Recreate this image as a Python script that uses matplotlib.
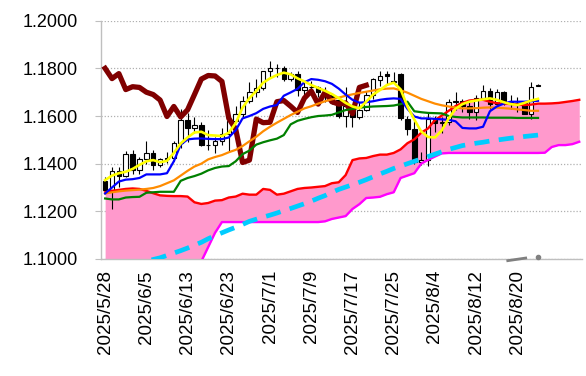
import matplotlib
matplotlib.use("Agg")
import matplotlib.pyplot as plt
import numpy as np

# x tick labels, one every 6 sessions
tick_labels = ["2025/5/28", "2025/6/5", "2025/6/13", "2025/6/23", "2025/7/1", "2025/7/9",
               "2025/7/17", "2025/7/25", "2025/8/4", "2025/8/12", "2025/8/20"]

# daily candles (EUR/USD)
opens = [1.1327, 1.1290, 1.1368, 1.1350, 1.1442, 1.1372, 1.1418, 1.1446, 1.1396, 1.1421,
         1.1423, 1.1487, 1.1584, 1.1548, 1.1562, 1.1478, 1.1480, 1.1495, 1.1523, 1.1578,
         1.1610, 1.1665, 1.1701, 1.1718, 1.1787, 1.1803, 1.1800, 1.1757, 1.1778, 1.1711,
         1.1723, 1.1720, 1.1700, 1.1690, 1.1667, 1.1598, 1.1640, 1.1596, 1.1626, 1.1690,
         1.1752, 1.1778, 1.1742, 1.1778, 1.1587, 1.1545, 1.1405, 1.1415, 1.1587, 1.1572,
         1.1574, 1.1660, 1.1665, 1.1641, 1.1615, 1.1675, 1.1705, 1.1650, 1.1700, 1.1660,
         1.1650, 1.1655, 1.1610, 1.1728]
highs = [1.1345, 1.1384, 1.1386, 1.1454, 1.1456, 1.1426, 1.1495, 1.1458, 1.1422, 1.1449,
         1.1495, 1.1631, 1.1614, 1.1594, 1.1573, 1.1542, 1.1510, 1.1548, 1.1585, 1.1641,
         1.1682, 1.1744, 1.1754, 1.1790, 1.1830, 1.1818, 1.1810, 1.1786, 1.1789, 1.1749,
         1.1745, 1.1728, 1.1720, 1.1695, 1.1680, 1.1720, 1.1643, 1.1659, 1.1705, 1.1760,
         1.1788, 1.1788, 1.1786, 1.1782, 1.1600, 1.1580, 1.1450, 1.1613, 1.1598, 1.1595,
         1.1672, 1.1699, 1.1670, 1.1667, 1.1687, 1.1730, 1.1716, 1.1712, 1.1707, 1.1687,
         1.1680, 1.1665, 1.1742, 1.1733]
lows = [1.1282, 1.1211, 1.1304, 1.1345, 1.1358, 1.1357, 1.1397, 1.1372, 1.1385, 1.1404,
        1.1412, 1.1467, 1.1489, 1.1530, 1.1473, 1.1458, 1.1445, 1.1479, 1.1454, 1.1576,
        1.1590, 1.1655, 1.1680, 1.1710, 1.1759, 1.1762, 1.1746, 1.1746, 1.1683, 1.1681,
        1.1688, 1.1680, 1.1657, 1.1650, 1.1590, 1.1556, 1.1556, 1.1587, 1.1621, 1.1670,
        1.1725, 1.1730, 1.1740, 1.1585, 1.1520, 1.1400, 1.1395, 1.1390, 1.1534, 1.1528,
        1.1563, 1.1626, 1.1615, 1.1589, 1.1582, 1.1668, 1.1630, 1.1647, 1.1645, 1.1630,
        1.1617, 1.1607, 1.1587, 1.1725]
closes = [1.1290, 1.1368, 1.1347, 1.1442, 1.1372, 1.1418, 1.1446, 1.1396, 1.1421, 1.1423,
          1.1487, 1.1584, 1.1548, 1.1562, 1.1478, 1.1480, 1.1495, 1.1523, 1.1578, 1.1610,
          1.1665, 1.1701, 1.1718, 1.1787, 1.1803, 1.1800, 1.1757, 1.1778, 1.1711, 1.1723,
          1.1720, 1.1700, 1.1690, 1.1667, 1.1598, 1.1640, 1.1596, 1.1626, 1.1690, 1.1755,
          1.1770, 1.1768, 1.1745, 1.1590, 1.1545, 1.1405, 1.1415, 1.1587, 1.1572, 1.1574,
          1.1660, 1.1665, 1.1641, 1.1615, 1.1675, 1.1705, 1.1650, 1.1700, 1.1660, 1.1650,
          1.1655, 1.1610, 1.1720, 1.1729]

# 5-day moving average (yellow)
ma5 = [1.1331, 1.1350, 1.1360, 1.1366, 1.1378, 1.1395, 1.1410, 1.1415, 1.1406, 1.1412,
       1.1445, 1.1485, 1.1510, 1.1531, 1.1534, 1.1520, 1.1518, 1.1516, 1.1530, 1.1570,
       1.1635, 1.1675, 1.1705, 1.1740, 1.1758, 1.1772, 1.1782, 1.1775, 1.1758, 1.1745,
       1.1730, 1.1718, 1.1706, 1.1692, 1.1675, 1.1655, 1.1640, 1.1632, 1.1660, 1.1690,
       1.1709, 1.1730, 1.1740, 1.1712, 1.1640, 1.1585, 1.1535, 1.1512, 1.1510, 1.1540,
       1.1590, 1.1630, 1.1650, 1.1660, 1.1665, 1.1670, 1.1674, 1.1668, 1.1658, 1.1650,
       1.1646, 1.1655, 1.1665, 1.1672]
# conversion line (blue)
tenkan = [1.1275, 1.1300, 1.1325, 1.1333, 1.1335, 1.1340, 1.1355, 1.1355, 1.1355, 1.1360,
          1.1410, 1.1480, 1.1502, 1.1505, 1.1506, 1.1504, 1.1503, 1.1503, 1.1510, 1.1540,
          1.1590, 1.1600, 1.1612, 1.1630, 1.1640, 1.1646, 1.1685, 1.1699, 1.1714, 1.1742,
          1.1755, 1.1752, 1.1746, 1.1735, 1.1715, 1.1690, 1.1668, 1.1656, 1.1658, 1.1662,
          1.1668, 1.1672, 1.1674, 1.1672, 1.1630, 1.1598, 1.1590, 1.1590, 1.1588, 1.1586,
          1.1584, 1.1578, 1.1550, 1.1548, 1.1548, 1.1555, 1.1620, 1.1640, 1.1652, 1.1660,
          1.1660, 1.1660, 1.1662, 1.1664]
# base line (green)
kijun = [1.1254, 1.1250, 1.1250, 1.1258, 1.1260, 1.1261, 1.1278, 1.1280, 1.1282, 1.1282,
         1.1282, 1.1328, 1.1340, 1.1348, 1.1358, 1.1372, 1.1382, 1.1388, 1.1390, 1.1410,
         1.1440, 1.1455, 1.1480, 1.1490, 1.1498, 1.1505, 1.1520, 1.1565, 1.1580, 1.1588,
         1.1595, 1.1600, 1.1602, 1.1605, 1.1615, 1.1625, 1.1630, 1.1635, 1.1638, 1.1640,
         1.1641, 1.1642, 1.1644, 1.1650, 1.1660, 1.1620, 1.1616, 1.1613, 1.1612, 1.1611,
         1.1600, 1.1596, 1.1594, 1.1594, 1.1594, 1.1594, 1.1593, 1.1593, 1.1593, 1.1593,
         1.1592, 1.1592, 1.1592, 1.1592]
# 25-day moving average (orange)
ma25 = [1.1275, 1.1280, 1.1284, 1.1287, 1.1289, 1.1291, 1.1294, 1.1298, 1.1306, 1.1318,
        1.1330, 1.1350, 1.1370, 1.1388, 1.1400, 1.1418, 1.1428, 1.1436, 1.1448, 1.1458,
        1.1474, 1.1494, 1.1513, 1.1536, 1.1555, 1.1572, 1.1588, 1.1604, 1.1618, 1.1632,
        1.1641, 1.1652, 1.1662, 1.1670, 1.1677, 1.1685, 1.1691, 1.1697, 1.1702, 1.1707,
        1.1712, 1.1715, 1.1716, 1.1708, 1.1698, 1.1685, 1.1672, 1.1662, 1.1652, 1.1645,
        1.1640, 1.1636, 1.1632, 1.1632, 1.1633, 1.1635, 1.1636, 1.1635, 1.1633, 1.1631,
        1.1628, 1.1625, 1.1622, 1.1622]
# leading span A (red) and leading span B (magenta), 70 sessions incl. the shifted part
span_a = [1.1280, 1.1286, 1.1290, 1.1294, 1.1296, 1.1294, 1.1286, 1.1276, 1.1267, 1.1265,
          1.1264, 1.1264, 1.1262, 1.1238, 1.1231, 1.1235, 1.1245, 1.1247, 1.1258, 1.1262,
          1.1274, 1.1270, 1.1270, 1.1294, 1.1290, 1.1270, 1.1274, 1.1284, 1.1294, 1.1298,
          1.1300, 1.1303, 1.1306, 1.1318, 1.1322, 1.1352, 1.1415, 1.1422, 1.1424, 1.1432,
          1.1438, 1.1438, 1.1445, 1.1460, 1.1486, 1.1502, 1.1530, 1.1548, 1.1583, 1.1602,
          1.1622, 1.1642, 1.1655, 1.1665, 1.1668, 1.1668, 1.1660, 1.1654, 1.1652, 1.1651,
          1.1648, 1.1646, 1.1648, 1.1652, 1.1652, 1.1653, 1.1655, 1.1659, 1.1663, 1.1668]
span_b = [1.0900, 1.0900, 1.0900, 1.0900, 1.0900, 1.0900, 1.0900, 1.0900, 1.0900, 1.0900,
          1.0900, 1.0900, 1.0900, 1.0930, 1.0990, 1.1050, 1.1110, 1.1155, 1.1155, 1.1155,
          1.1155, 1.1155, 1.1155, 1.1155, 1.1155, 1.1155, 1.1155, 1.1155, 1.1155, 1.1155,
          1.1155, 1.1155, 1.1158, 1.1168, 1.1174, 1.1180, 1.1210, 1.1230, 1.1256, 1.1258,
          1.1261, 1.1272, 1.1280, 1.1340, 1.1350, 1.1360, 1.1400, 1.1416, 1.1430, 1.1443,
          1.1445, 1.1445, 1.1445, 1.1445, 1.1445, 1.1445, 1.1445, 1.1445, 1.1445, 1.1445,
          1.1445, 1.1445, 1.1445, 1.1445, 1.1446, 1.1470, 1.1478, 1.1478, 1.1482, 1.1492]
# long moving average (cyan dashed)
ma_long = [1.0930, 1.0940, 1.0950, 1.0960, 1.0970, 1.0980, 1.0990, 1.0998, 1.1005, 1.1015,
           1.1025, 1.1035, 1.1046, 1.1058, 1.1070, 1.1085, 1.1098, 1.1110, 1.1122, 1.1133,
           1.1145, 1.1158, 1.1167, 1.1176, 1.1184, 1.1193, 1.1203, 1.1212, 1.1222, 1.1232,
           1.1243, 1.1255, 1.1266, 1.1280, 1.1292, 1.1302, 1.1312, 1.1322, 1.1333, 1.1345,
           1.1357, 1.1368, 1.1380, 1.1390, 1.1400, 1.1410, 1.1420, 1.1430, 1.1440, 1.1450,
           1.1460, 1.1468, 1.1476, 1.1481, 1.1486, 1.1490, 1.1495, 1.1499, 1.1503, 1.1507,
           1.1510, 1.1514, 1.1517, 1.1520]
lag = 25  # lagging span: close plotted 25 sessions back

# small grey marks at the bottom edge
mark_x = [58.6, 61.2]
mark_y = [1.0993, 1.1004]
dot_x = [63]
dot_y = [1.1008]

plt.rcParams["font.family"] = ["Liberation Sans", "DejaVu Sans"]

fig = plt.figure(figsize=(5.86, 3.76), dpi=100)
ax = fig.add_axes([101 / 586, 1 - 259 / 376, 481 / 586, (259 - 20.7) / 376])

n = len(closes)
x = np.arange(n)
xs = np.arange(len(span_a))

# cloud
ax.fill_between(xs, span_a, span_b, color="#FF99CC", lw=0, zorder=1)

# candles
o = np.array(opens)
c = np.array(closes)
up = c >= o
ax.vlines(x, lows, highs, color="black", lw=0.8, zorder=2)
body_low = np.minimum(o, c)
body_h = np.maximum(np.abs(c - o), 0.00005)
ax.bar(x[up], body_h[up], bottom=body_low[up], width=0.66, color="white",
       edgecolor="black", lw=0.8, zorder=3)
ax.bar(x[~up], body_h[~up], bottom=body_low[~up], width=0.66, color="black",
       edgecolor="black", lw=0.8, zorder=3)

# lines
ax.plot(xs, span_b, color="#FF00FF", lw=1.7, zorder=4)
ax.plot(xs, span_a, color="#FF0000", lw=1.7, zorder=4)
ax.plot(x, ma_long, color="#00CCFF", lw=3.4, dashes=(3.2, 2.0), zorder=4)
ax.plot(x[:-lag], closes[lag:], color="#800000", lw=3.8, zorder=5)
ax.plot(x, kijun, color="#008000", lw=1.6, zorder=6)
ax.plot(x, ma25, color="#FF8C00", lw=1.6, zorder=6)
ax.plot(x, tenkan, color="#0000FF", lw=1.6, zorder=7)
ax.plot(x, ma5, color="#FFFF00", lw=1.9, zorder=8)

ax.plot(mark_x, mark_y, color="#808080", lw=2, clip_on=False, zorder=9)
ax.plot(dot_x, dot_y, "o", color="#808080", ms=3, clip_on=False, zorder=9)

ax.set_xlim(-0.6, 69.4)
ax.set_ylim(1.10, 1.20)

ax.set_yticks(np.arange(1.10, 1.2001, 0.02))
ax.set_yticklabels([f"{v:.4f}" for v in np.arange(1.10, 1.2001, 0.02)], fontsize=13)
ax.set_xticks(np.arange(0, 61, 6))
ax.set_xticklabels(tick_labels, rotation=90, fontsize=13.5)

ax.yaxis.grid(True, color="#B0B0B0", lw=0.9, linestyle=(0, (1, 1.5)))
ax.set_axisbelow(True)

for side in ["top", "right"]:
    ax.spines[side].set_visible(False)
for side in ["left", "bottom"]:
    ax.spines[side].set_color("#BFBFBF")
    ax.spines[side].set_linewidth(1)

ax.tick_params(axis="y", length=4, color="#BFBFBF", pad=13)
ax.tick_params(axis="x", length=0, pad=8)

fig.savefig("out.png", dpi=100)
